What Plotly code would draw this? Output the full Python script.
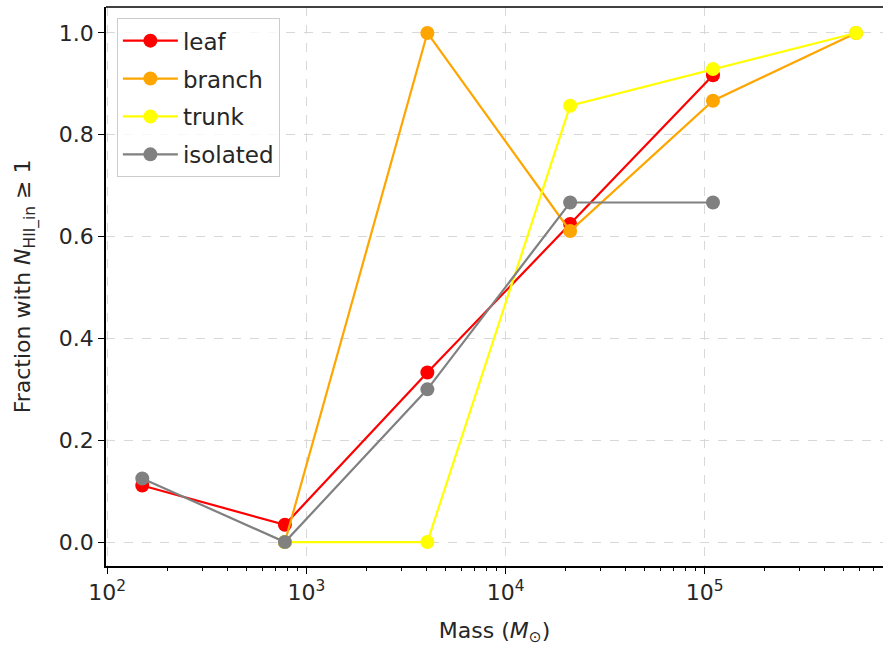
import plotly.graph_objects as go

mass = [150, 780, 4050, 21100, 110000, 575000]

leaf = [0.111, 0.034, 0.333, 0.625, 0.917, None]
branch = [None, 0.0, 1.0, 0.611, 0.867, 1.0]
trunk = [None, 0.0, 0.0, 0.857, 0.929, 1.0]
isolated = [0.125, 0.0, 0.3, 0.667, 0.667, None]

series = [("leaf", leaf, "red"), ("branch", branch, "orange"),
          ("trunk", trunk, "yellow"), ("isolated", isolated, "gray")]

fig = go.Figure()
for name, vals, col in series:
    xs = [m for m, v in zip(mass, vals) if v is not None]
    ys = [v for v in vals if v is not None]
    fig.add_trace(go.Scatter(x=xs, y=ys, mode="lines+markers", name=name,
                             legendgroup=name,
                             line=dict(color=col, width=2.2),
                             marker=dict(color=col, size=14)))

font = "DejaVu Sans, sans-serif"
fig.update_layout(
    width=883, height=653,
    margin=dict(l=106, r=0, t=7, b=87, autoexpand=False),
    paper_bgcolor="white", plot_bgcolor="white",
    font=dict(family=font, size=22, color="#262626"),
    showlegend=True,
    legend=dict(x=0.014, y=0.98, xanchor="left", yanchor="top",
                bgcolor="rgba(255,255,255,0.8)", bordercolor="#cccccc", borderwidth=1,
                font=dict(size=23, color="#262626"), tracegroupgap=5,
                itemwidth=55),
    shapes=[dict(type="line", xref="paper", yref="paper", x0=0, x1=1, y0=1, y1=1,
                 line=dict(color="black", width=1.5))],
)
fig.update_xaxes(
    type="log", range=[1.994, 5.895], automargin=False,
    tickvals=[100, 1000, 10000, 100000],
    ticktext=["10<sup>2</sup>", "10<sup>3</sup>", "10<sup>4</sup>", "10<sup>5</sup>"],
    ticks="outside", ticklen=6, tickwidth=1.2, tickcolor="black",
    showline=True, linecolor="black", linewidth=1.5, mirror=False,
    showgrid=True, gridcolor="#d8d8d8", griddash="dash", gridwidth=1,
    zeroline=False,
    minor=dict(ticks="outside", ticklen=3.5, tickcolor="black", dtick="D1", showgrid=False),
    title=dict(text="Mass (<i>M</i><sub>⊙</sub>)", font=dict(size=22), standoff=18),
)
fig.update_yaxes(
    range=[-0.047, 1.051], automargin=False,
    tickvals=[0, 0.2, 0.4, 0.6, 0.8, 1.0],
    ticktext=["0.0", "0.2", "0.4", "0.6", "0.8", "1.0"],
    ticks="outside", ticklen=6, tickwidth=1.2, tickcolor="black",
    showline=True, linecolor="black", linewidth=1.5,
    showgrid=True, gridcolor="#d8d8d8", griddash="dash", gridwidth=1,
    zeroline=False,
    title=dict(text="Fraction with <i>N</i><sub>HII_in</sub> ≥ 1", font=dict(size=22), standoff=22),
)
fig.write_html("out.html", config={"displayModeBar": False},
               post_script="document.body.style.margin='0';document.body.style.padding='0';")
